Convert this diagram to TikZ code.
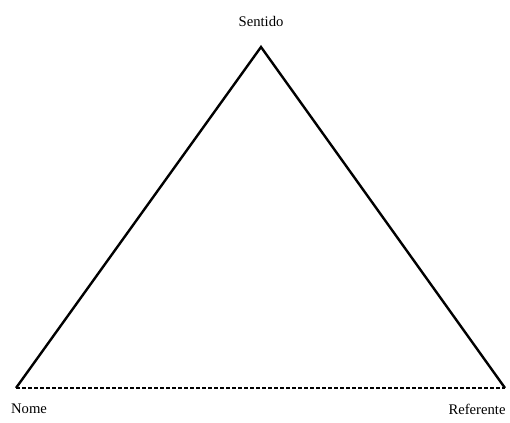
\documentclass[tikz,border=0pt]{standalone}
\usepackage{fontspec}
\setmainfont{Liberation Serif}
\usepackage{tikz}
\usetikzlibrary{positioning}
\tikzset{
  side/.style={line width=1.8pt, draw=black, line join=miter},
  base/.style={line width=0.9pt, draw=black, dash pattern=on 3pt off 1.5pt},
  vlabel/.style={font=\fontsize{11}{13}\selectfont, inner sep=0pt}
}
\begin{document}
\begin{tikzpicture}[x=0.75pt,y=-0.75pt]
  \useasboundingbox (0,0) rectangle (510,423);
  \coordinate (apex) at (261,47);
  \coordinate (nome) at (16,388);
  \coordinate (ref) at (505,388);

  \node[vlabel] (lsentido) at (261,21) {Sentido};
  \node[vlabel] (lnome) at (29,409) {Nome};
  \node[vlabel] (lref) at (477,409) {Referente};

  \draw[side] (nome) -- (apex) -- (ref);
  \draw[base] (nome) -- (ref);
\end{tikzpicture}
\end{document}
